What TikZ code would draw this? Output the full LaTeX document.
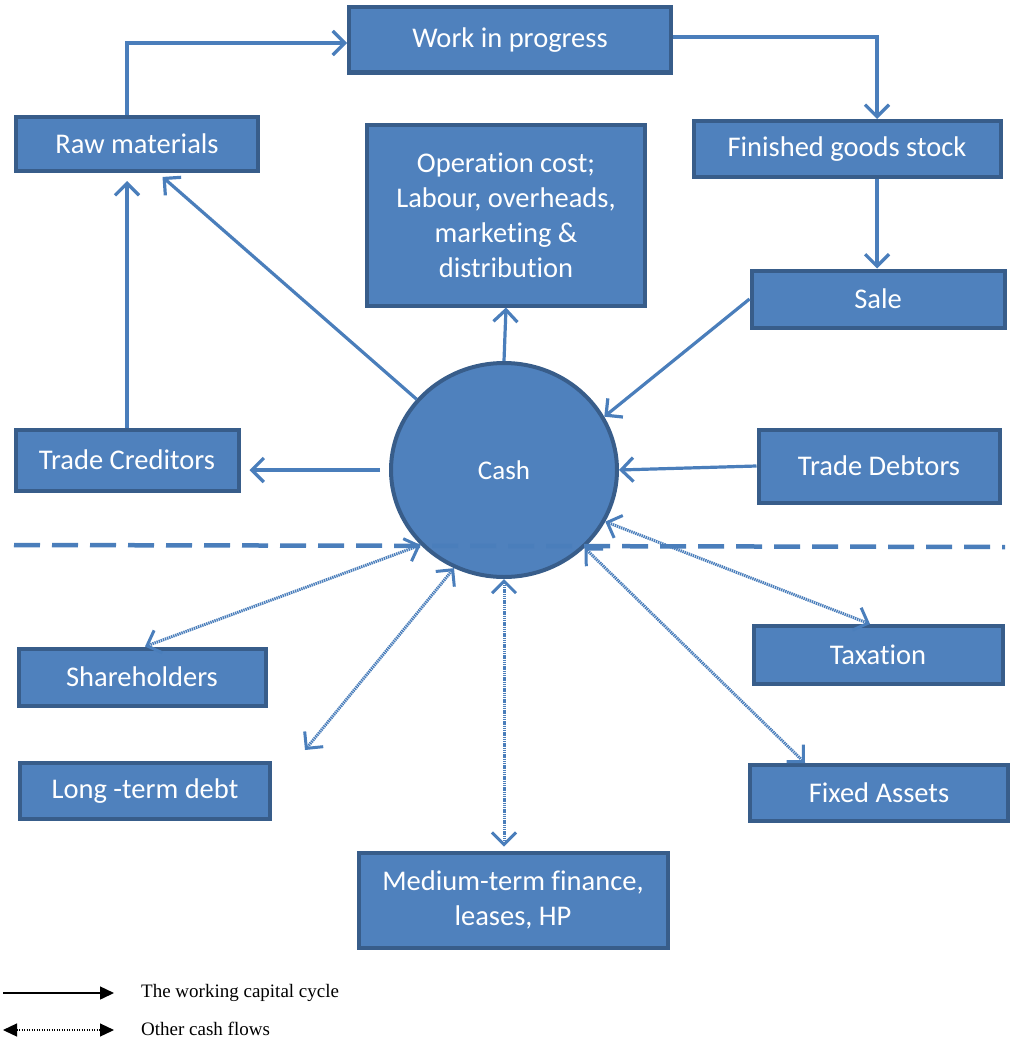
\documentclass[tikz,border=0pt]{standalone}
\usepackage{fontspec}
\setmainfont[Ligatures=NoCommon]{Carlito}
\newfontfamily\legfont{Liberation Serif}
\usetikzlibrary{arrows.meta,shapes.geometric}
\definecolor{boxfill}{HTML}{4F81BD}
\definecolor{boxline}{HTML}{385D8A}
\definecolor{arrcol}{HTML}{4A7EBB}
\begin{document}
\begin{tikzpicture}[x=1pt,y=-1pt,
  box/.style={draw=boxline,fill=boxfill,line width=4pt,text=white,font=\fontsize{28.5}{35}\selectfont,align=center,inner sep=2pt},
  flow/.style={draw=arrcol,line width=3.2pt,-{Straight Barb[length=12pt,width=24pt,line width=3.2pt]}},
  other/.style={draw=arrcol,line width=3pt,dash pattern=on 1.4pt off 0.8pt,{Straight Barb[length=12pt,width=24pt,line width=3pt,line cap=butt]}-{Straight Barb[length=12pt,width=24pt,line width=3pt]}}
]
\useasboundingbox (0,0) rectangle (1012,1041);
% nodes
\node[box,minimum width=322,minimum height=65] (wip) at (510,40) {Work in progress};
\node[box,minimum width=242,minimum height=54] (raw) at (137,144) {Raw materials};
\node[box,minimum width=307,minimum height=56] (fgs) at (847,149) {Finished goods stock};
\node[box,minimum width=278,minimum height=181] (op) at (506,215) {Operation cost;\\Labour, overheads,\\marketing \&\\distribution};
\node[box,minimum width=253,minimum height=57] (sale) at (878,299) {Sale};
\node[box,minimum width=223,minimum height=61] (tcred) at (127,460) {Trade Creditors};
\node[box,minimum width=241,minimum height=73] (tdebt) at (879,466) {Trade Debtors};
\node[box,ellipse,minimum width=226,minimum height=214,font=\fontsize{27}{30}\selectfont] (cash) at (504,470) {Cash};
\node[box,minimum width=247,minimum height=57] (share) at (142,677) {Shareholders};
\node[box,minimum width=249,minimum height=58] (tax) at (878,655) {Taxation};
\node[box,minimum width=250,minimum height=56] (ltd) at (145,791) {Long -term debt};
\node[box,minimum width=258,minimum height=56] (fa) at (879,793) {Fixed Assets};
\node[box,minimum width=309,minimum height=95] (mtf) at (513,900) {Medium-term finance,\\leases, HP};
% dashed separator
\coordinate (dl) at (14,545);
\coordinate (dr) at (1005,547);
\draw[arrcol,line width=4.5pt,dash pattern=on 26pt off 12pt] (dl) -- (dr);
% working capital cycle
\coordinate (c1) at (127,43);
\draw[flow] ([xshift=-10pt]raw.north) -- (c1) -- (c1 -| wip.west);
\coordinate (c2) at (877,37);
\draw[flow] (wip.east |- c2) -- (c2) -- (c2 |- fgs.north);
\draw[flow] ([xshift=30pt]fgs.south) -- ([xshift=-1pt]sale.north);
\draw[flow] (sale.west) -- (cash.28);
\draw[flow] (tdebt.west) -- (cash.east);
\draw[flow] (cash.north) -- (op.south);
\draw[flow,shorten >=6pt] (cash.141) -- ([xshift=21pt]raw.south);
\draw[flow,shorten >=8pt] (tcred.north) -- ([xshift=-10pt]raw.south);
\draw[flow,shorten <=9pt,shorten >=9pt] (cash.west) -- (cash.west -| tcred.east);
% other cash flows
\coordinate (ltdend) at (305,750);
\draw[other] ([xshift=3pt]share.north) -- (cash.222);
\draw[other] (ltdend) -- (cash.243);
\draw[other,shorten >=4pt] (cash.south) -- (cash.south |- mtf.north);
\draw[other] (cash.-27) -- ([xshift=-8pt]tax.north);
\draw[other] (cash.-44) -- ([xshift=-74pt]fa.north);
% legend
\coordinate (l1a) at (3,993);
\coordinate (l1b) at (114,993);
\coordinate (l2a) at (3,1030);
\coordinate (l2b) at (114,1030);
\draw[line width=1.5pt,-{Triangle[length=14pt,width=13pt]}] (l1a) -- (l1b);
\draw[line width=1.2pt,dash pattern=on 1pt off 1.5pt,{Triangle[length=14pt,width=13pt]}-{Triangle[length=14pt,width=13pt]}] (l2a) -- (l2b);
\node[anchor=west,font=\legfont\fontsize{19}{22}\selectfont,inner sep=0pt] (leg1) at (141,993) {The working capital cycle};
\node[anchor=west,font=\legfont\fontsize{19}{22}\selectfont,inner sep=0pt] (leg2) at (141,1029) {Other cash flows};
\end{tikzpicture}
\end{document}
